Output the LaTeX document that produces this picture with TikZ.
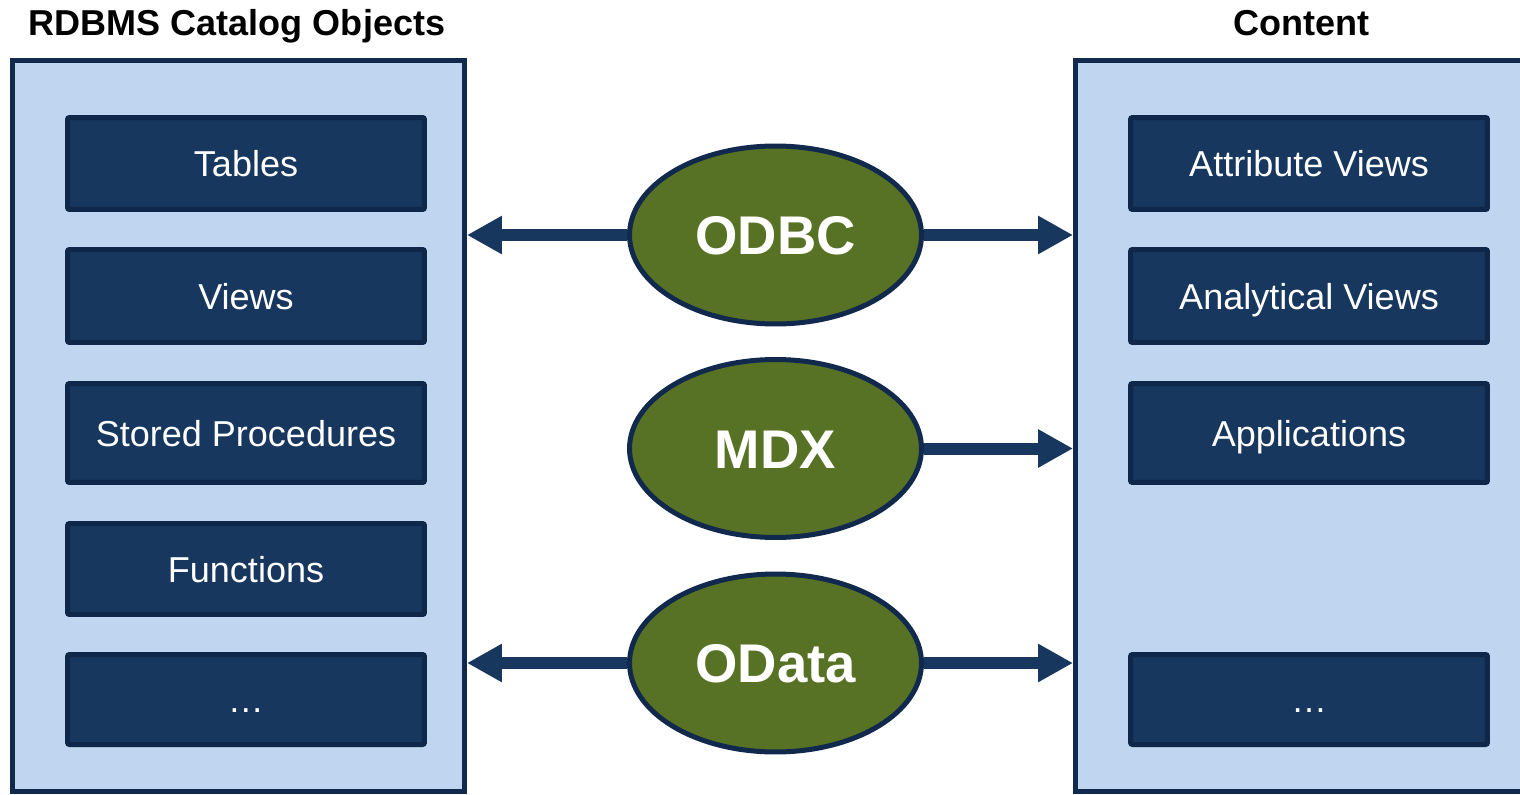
\documentclass[tikz,border=0pt]{standalone}
\usepackage{fontspec}
\setmainfont{Liberation Sans}
\usetikzlibrary{positioning,arrows.meta,shapes.geometric}
\definecolor{palNavy}{HTML}{10294D}
\definecolor{palBox}{HTML}{17375E}
\definecolor{palBoxEdge}{HTML}{0F2748}
\definecolor{palPanel}{HTML}{C0D5EF}
\definecolor{palOlive}{HTML}{587225}
\tikzset{
  panelbox/.style={draw=palNavy, fill=palPanel, line width=0.1cm, inner sep=0pt},
  itembox/.style={draw=palBoxEdge, fill=palBox, line width=0.1cm,
                  rounded corners=0.04cm, minimum width=7.14cm, inner sep=0pt,
                  text=white, font=\fontsize{20.5}{24}\selectfont,
                  text height=14.8pt, text depth=0pt},
  protonode/.style={ellipse, draw=palNavy, fill=palOlive, line width=0.1cm,
                    minimum width=5.84cm, minimum height=3.56cm, inner sep=0pt,
                    text=white, font=\fontsize{31}{36}\selectfont\bfseries,
                    text height=22.3pt, text depth=0pt},
  headlbl/.style={font=\fontsize{20.5}{24}\selectfont\bfseries, anchor=base},
  flowarrow/.style={-{Triangle[length=0.7cm, width=0.72cm]}, line width=0.24cm,
                    draw=palBox},
}

\begin{document}
\begin{tikzpicture}[x=0.02cm, y=-0.02cm]  % one unit = one pixel, y downwards
\useasboundingbox (0,0) rectangle (1520,794);

%% Panels and headings
\node[panelbox, minimum width=9.04cm, minimum height=14.62cm] (catalog) at (238.5,426) {};
\node[panelbox, minimum width=9.10cm, minimum height=14.62cm] (content) at (1303,426) {};
\node[headlbl] (catalogttl) at (237,36) {RDBMS Catalog Objects};
\node[headlbl] (contentttl) at (1301,36) {Content};

%% Catalog objects (left)
\foreach \name/\lbl/\ypos/\hgt in {
  tbl/Tables/163.5/1.84,
  vw/Views/296/1.86,
  sp/Stored Procedures/433/1.98,
  fn/Functions/569/1.82,
  lmore/…/699.5/1.80%
} {
  \node[itembox, minimum height=\hgt cm] (\name) at (246,\ypos) {\lbl};
}

%% Content objects (right)
\foreach \name/\lbl/\ypos/\hgt in {
  attr/Attribute Views/163.5/1.84,
  anlt/Analytical Views/296/1.86,
  app/Applications/433/1.98,
  rmore/…/699.5/1.80%
} {
  \node[itembox, minimum height=\hgt cm] (\name) at (1309,\ypos) {\lbl};
}

%% Access protocols
\node[protonode] (odbc)  at (775.5,235)   {ODBC};
\node[protonode] (mdx)   at (775.5,448.5) {MDX};
\node[protonode] (odata) at (775.5,663)   {OData};

%% Arrows to the panels
\foreach \proto in {odbc, odata} {
  \draw[flowarrow] (\proto.west) -- (catalog.east |- \proto.west);
}
\foreach \proto in {odbc, mdx, odata} {
  \draw[flowarrow] (\proto.east) -- (content.west |- \proto.east);
}
\end{tikzpicture}
\end{document}
